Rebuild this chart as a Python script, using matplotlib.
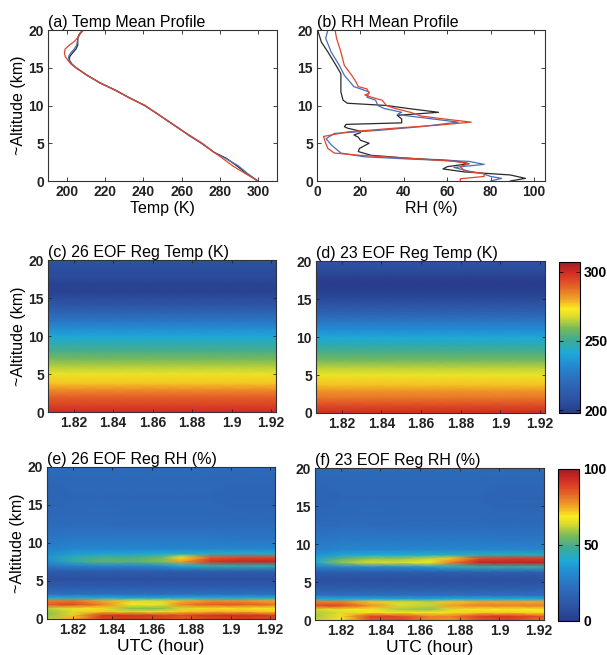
import numpy as np
import matplotlib
matplotlib.use("Agg")
import matplotlib.pyplot as plt
from matplotlib.colors import LinearSegmentedColormap

plt.rcParams['font.family'] = ['Liberation Sans', 'DejaVu Sans']

# ---------------- data ----------------
# (a) temperature mean profiles (K) vs altitude (km)
alt_t = [0, 1, 2, 3, 3.8, 5, 6, 7, 8, 9, 10, 11, 12, 13, 14, 15, 15.5, 16, 16.5, 17, 17.5, 18, 18.5, 19, 19.5, 20]
temp_black = [300, 294.0, 289.0, 283.5, 277.0, 270.5, 264.2, 258.4, 252.5, 246.7, 240.7, 232.8, 225.5, 217.2, 210.5, 204.7, 202.5, 201.2, 201.4, 203.0, 204.7, 205.6, 205.6, 205.6, 206.5, 208.2]
temp_blue = [300, 294.5, 289.8, 283.0, 277.0, 270.3, 264.0, 258.6, 252.4, 246.9, 240.5, 233.0, 225.2, 217.5, 210.3, 204.9, 202.3, 201.0, 200.8, 202.0, 203.8, 205.0, 205.4, 205.8, 206.8, 208.5]
temp_red = [300, 293.3, 286.8, 281.5, 277.0, 270.8, 264.5, 258.2, 252.8, 246.5, 241.0, 232.5, 225.8, 217.0, 210.7, 204.5, 202.0, 200.4, 199.0, 198.6, 199.0, 201.2, 203.9, 205.6, 206.8, 208.6]

# (b) RH mean profiles (%)
alt_rh_black = [0, 0.35, 0.8, 1.2, 1.6, 1.9, 2.3, 2.7, 3.0, 3.4, 3.9, 4.3, 4.7, 5.0, 5.4, 5.8, 6.1, 6.4, 6.6, 7.0, 7.2, 7.5, 7.7, 8.2, 8.7, 9.1, 9.6, 10.0, 10.3, 10.7, 11.8, 14.2, 15.3, 17.1, 18.4, 20]
rh_black = [89, 96, 89, 68, 58, 60, 70, 63, 43, 25, 19, 19.5, 22, 24, 20, 19, 17, 20, 20, 14, 12.6, 13.4, 39, 39, 37, 56, 42, 32, 14, 12, 11, 11, 8.8, 5, 2, 0.3]
alt_rh_blue = [0, 0.35, 0.6, 1.0, 1.3, 1.8, 2.2, 2.6, 2.9, 3.2, 3.7, 4.8, 5.6, 6.3, 6.7, 7.2, 7.8, 8.3, 8.8, 9.1, 9.6, 10.0, 10.7, 11.1, 11.8, 12.5, 14.0, 15.3, 17.1, 18.9, 20]
rh_blue = [80, 85, 80, 76, 70, 63, 77, 70, 43, 22, 11, 6.5, 4.2, 8, 28, 48, 65, 51, 37, 39, 31, 28, 27, 23, 24, 17, 12.6, 10.3, 6.5, 4, 5]
alt_rh_red = [0, 0.3, 0.6, 1.0, 1.3, 1.9, 2.3, 2.6, 3.0, 3.4, 3.7, 4.3, 5.0, 5.9, 6.5, 7.0, 7.4, 7.8, 8.2, 8.6, 9.1, 9.6, 10.0, 10.7, 11.1, 11.4, 11.6, 12.2, 12.5, 13.1, 14.0, 15.3, 17.1, 18.9, 20]
rh_red = [66, 66, 77, 77, 68, 66, 70, 63, 43, 20, 8, 5, 4, 3, 14, 36, 56, 71, 59, 48, 43, 36, 32, 30, 25, 22, 24, 23, 19, 18, 16, 12.6, 11, 9, 8.3]

# time axis for the image panels (UTC hour)
utc = [1.807, 1.82, 1.835, 1.85, 1.865, 1.875, 1.89, 1.905, 1.9225]
utc_ticks = [1.82, 1.84, 1.86, 1.88, 1.9, 1.92]
utc_labels = ['1.82', '1.84', '1.86', '1.88', '1.9', '1.92']

# RH image levels (km)
alt_img = [0.0, 0.5, 1.0, 1.4, 1.9, 2.4, 2.8, 3.3, 4.2, 5.3, 6.3, 7.0, 7.6, 8.1, 8.6, 9.3, 10.5, 12.5, 16.0, 20.0]

# (e) 26 EOF Reg RH (%) rows = alt_img, cols = utc
rh_e = [
    [62, 75, 88, 90, 88, 85, 88, 90, 88],
    [58, 72, 92, 92, 90, 88, 92, 93, 90],
    [58, 64, 72, 64, 66, 72, 74, 74, 72],
    [62, 67, 70, 57, 57, 64, 70, 70, 68],
    [85, 88, 80, 68, 66, 80, 85, 85, 82],
    [80, 82, 75, 64, 64, 74, 78, 78, 75],
    [40, 42, 40, 38, 38, 40, 40, 40, 40],
    [22, 22, 22, 22, 22, 22, 22, 22, 22],
    [14, 14, 14, 14, 14, 14, 14, 14, 14],
    [8, 8, 8, 8, 8, 8, 8, 8, 8],
    [14, 14, 14, 14, 14, 14, 15, 15, 15],
    [25, 28, 30, 30, 32, 40, 45, 45, 45],
    [32, 45, 53, 52, 57, 76, 92, 95, 95],
    [35, 45, 50, 50, 55, 70, 85, 88, 88],
    [32, 36, 38, 38, 40, 42, 42, 42, 42],
    [28, 30, 30, 30, 30, 30, 30, 30, 30],
    [25, 26, 26, 26, 26, 26, 26, 25, 25],
    [20, 21, 21, 20, 20, 20, 20, 20, 20],
    [17, 18, 19, 18, 18, 18, 18, 17, 17],
    [20, 20, 20, 20, 20, 20, 20, 20, 20],
]
# (f) 23 EOF Reg RH (%)
rh_f = [
    [62, 70, 85, 88, 80, 78, 86, 88, 82],
    [60, 70, 90, 88, 80, 80, 90, 92, 85],
    [60, 64, 70, 67, 68, 70, 72, 72, 70],
    [64, 67, 68, 60, 58, 64, 68, 68, 68],
    [88, 88, 78, 64, 62, 76, 80, 80, 80],
    [80, 80, 72, 64, 62, 72, 75, 75, 75],
    [40, 40, 40, 38, 38, 40, 40, 40, 40],
    [22, 22, 22, 22, 22, 22, 22, 22, 22],
    [14, 14, 14, 14, 14, 14, 14, 14, 14],
    [8, 8, 8, 8, 8, 8, 8, 8, 8],
    [14, 14, 14, 14, 14, 14, 15, 15, 15],
    [28, 30, 32, 32, 35, 42, 45, 45, 45],
    [38, 58, 64, 64, 68, 80, 95, 96, 96],
    [38, 52, 58, 58, 62, 72, 88, 90, 90],
    [33, 38, 40, 40, 42, 44, 44, 44, 44],
    [28, 30, 30, 30, 30, 30, 30, 30, 30],
    [25, 26, 26, 26, 26, 26, 26, 25, 25],
    [20, 21, 21, 20, 20, 20, 20, 20, 20],
    [17, 18, 19, 18, 18, 18, 18, 17, 17],
    [20, 20, 20, 20, 20, 20, 20, 20, 20],
]

# ---------------- colormap ----------------
cm_pts = [
    (0.00, (40, 60, 140)), (0.10, (45, 85, 165)), (0.22, (45, 110, 190)),
    (0.32, (35, 140, 210)), (0.40, (30, 170, 215)), (0.48, (60, 170, 150)),
    (0.56, (120, 185, 90)), (0.64, (220, 220, 45)), (0.69, (250, 235, 30)),
    (0.76, (240, 160, 40)), (0.85, (228, 90, 38)), (0.93, (210, 45, 35)),
    (1.00, (160, 30, 35)),
]
cmap = LinearSegmentedColormap.from_list(
    'scan_jet', [(p, tuple(c / 255 for c in col)) for p, col in cm_pts])

# ---------------- figure ----------------
W, H = 607, 655
fig = plt.figure(figsize=(W / 100, H / 100), dpi=100)


def box(l, r, t, b):
    return [l / W, 1 - b / H, (r - l) / W, (b - t) / H]


TICKFS = 10
LABFS = 11.5
TITLEFS = 11.5


def style(ax, length=3):
    ax.tick_params(direction='in', top=True, right=True, length=length,
                   width=0.6, colors='#222222', pad=3)
    for s in ax.spines.values():
        s.set_linewidth(0.8)
        s.set_color('#333333')


def yaxis_alt(ax, label=True):
    ax.set_ylim(0, 20)
    ax.set_yticks([0, 5, 10, 15, 20], ['0', '5', '10', '15', '20'],
                  fontweight='bold', fontsize=TICKFS)
    if label:
        ax.set_ylabel('~Altitude (km)', fontsize=LABFS, labelpad=2)


# (a)
ax_a = fig.add_axes(box(48, 277, 30, 181))
ax_a.plot(temp_black, alt_t, color='#2a2a2a', lw=0.9)
ax_a.plot(temp_blue, alt_t, color='#4a6db5', lw=0.9)
ax_a.plot(temp_red, alt_t, color='#e0452a', lw=0.9)
ax_a.set_xlim(190, 310)
ax_a.set_xticks([200, 220, 240, 260, 280, 300],
                ['200', '220', '240', '260', '280', '300'],
                fontweight='bold', fontsize=TICKFS)
yaxis_alt(ax_a)
ax_a.set_xlabel('Temp (K)', fontsize=LABFS, labelpad=1)
ax_a.set_title('(a) Temp Mean Profile', loc='left', fontsize=TITLEFS, pad=2)
style(ax_a)

# (b)
ax_b = fig.add_axes(box(317, 545, 30, 181))
ax_b.plot(rh_black, alt_rh_black, color='#2a2a2a', lw=0.9)
ax_b.plot(rh_blue, alt_rh_blue, color='#4a6db5', lw=0.9)
ax_b.plot(rh_red, alt_rh_red, color='#e0452a', lw=0.9)
ax_b.set_xlim(0, 105)
ax_b.set_xticks([0, 20, 40, 60, 80, 100], ['0', '20', '40', '60', '80', '100'],
                fontweight='bold', fontsize=TICKFS)
yaxis_alt(ax_b, label=False)
ax_b.set_xlabel('RH (%)', fontsize=LABFS, labelpad=1)
ax_b.set_title('(b) RH Mean Profile', loc='left', fontsize=TITLEFS, pad=2)
style(ax_b)


def image_panel(pos, field, alts, title, vmin, vmax, xlabel):
    ax = fig.add_axes(pos)
    Z = np.asarray(field, dtype=float)
    if Z.ndim == 1:
        Z = np.column_stack([Z] * len(utc))
    X, Y = np.meshgrid(utc, alts)
    m = ax.pcolormesh(X, Y, Z, shading='gouraud', cmap=cmap,
                      vmin=vmin, vmax=vmax, rasterized=True)
    ax.set_xlim(utc[0], utc[-1])
    ax.set_xticks(utc_ticks, utc_labels, fontweight='bold', fontsize=TICKFS)
    ax.set_title(title, loc='left', fontsize=TITLEFS, pad=2)
    if xlabel:
        ax.set_xlabel('UTC (hour)', fontsize=LABFS + 1, labelpad=1)
    style(ax, length=2)
    return ax, m


# (c), (d)
ax_c, m_c = image_panel(box(48, 276, 260, 412), temp_blue, alt_t,
                        '(c) 26 EOF Reg Temp (K)', 198, 307, False)
yaxis_alt(ax_c)
ax_d, m_d = image_panel(box(316, 545, 261, 413), temp_red, alt_t,
                        '(d) 23 EOF Reg Temp (K)', 198, 307, False)
yaxis_alt(ax_d, label=False)

cax1 = fig.add_axes(box(559, 580, 262, 413))
cb1 = fig.colorbar(m_d, cax=cax1, ticks=[200, 250, 300])
cb1.ax.set_yticklabels(['200', '250', '300'], fontweight='bold', fontsize=TICKFS)
cb1.outline.set_linewidth(0.8)
cax1.tick_params(direction='in', length=3, left=True, right=True, width=0.6, pad=3)

# (e), (f)
ax_e, m_e = image_panel(box(47, 275, 467, 619), rh_e, alt_img,
                        '(e) 26 EOF Reg RH (%)', 0, 100, True)
yaxis_alt(ax_e)
ax_f, m_f = image_panel(box(315, 544, 468, 620), rh_f, alt_img,
                        '(f) 23 EOF Reg RH (%)', 0, 100, True)
yaxis_alt(ax_f, label=False)

cax2 = fig.add_axes(box(558, 579, 469, 621))
cb2 = fig.colorbar(m_f, cax=cax2, ticks=[0, 50, 100])
cb2.ax.set_yticklabels(['0', '50', '100'], fontweight='bold', fontsize=TICKFS)
cb2.outline.set_linewidth(0.8)
cax2.tick_params(direction='in', length=3, left=True, right=True, width=0.6, pad=3)

fig.savefig('out.png', dpi=100)
